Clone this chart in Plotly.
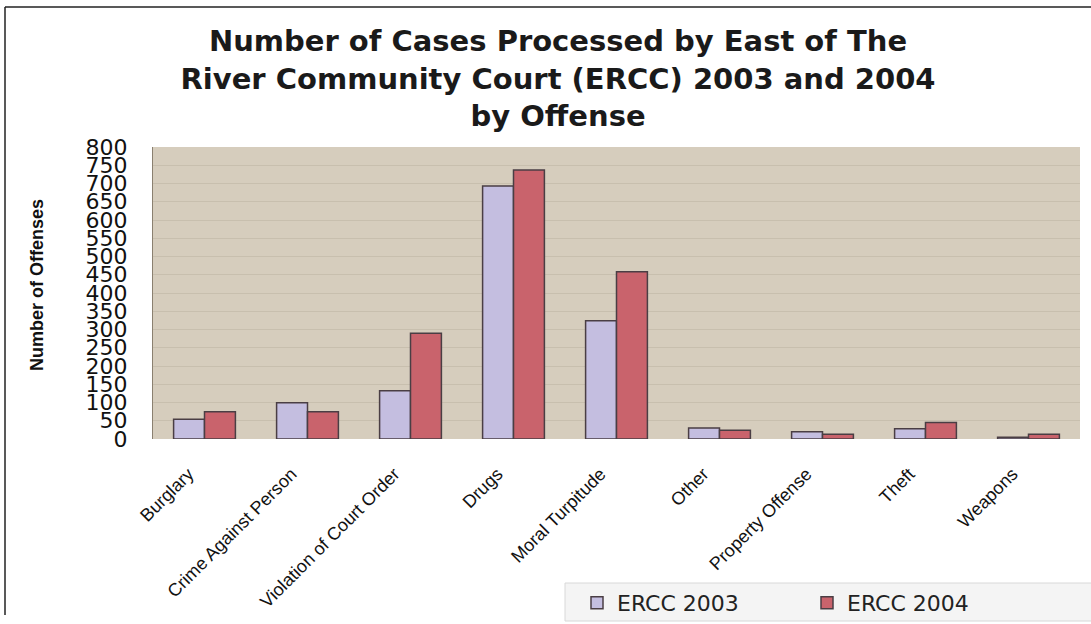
import plotly.graph_objects as go

categories = ["Burglary", "Crime Against Person", "Violation of Court Order", "Drugs",
              "Moral Turpitude", "Other", "Property Offense", "Theft", "Weapons"]
ercc_2003 = [54, 99, 132, 693, 324, 30, 20, 28, 5]
ercc_2004 = [75, 75, 290, 737, 458, 24, 13, 45, 13]
y_ticks = list(range(0, 801, 50))

W, H = 1091, 624
L, R, T, B = 153, 11, 147, 185

fig = go.Figure()
fig.add_trace(go.Bar(name="ERCC 2003", x=categories, y=ercc_2003,
                     marker=dict(color="#c4bee0", line=dict(color="#4a3e44", width=1.5))))
fig.add_trace(go.Bar(name="ERCC 2004", x=categories, y=ercc_2004,
                     marker=dict(color="#c9636c", line=dict(color="#4a3e44", width=1.5))))

pw = W - L - R
ph = H - T - B

fig.update_layout(
    width=W, height=H,
    margin=dict(l=L, r=R, t=T, b=B, pad=0, autoexpand=False),
    paper_bgcolor="white",
    plot_bgcolor="#d6cdbd",
    barmode="group", bargap=0.4, bargroupgap=0.0,
    title=dict(
        text="<b>Number of Cases Processed by East of The<br>River Community Court (ERCC) 2003 and 2004<br>by Offense</b>",
        x=(558 - L) / pw, xanchor="center", xref="paper",
        y=1 - 51 / H, yanchor="middle", yref="container",
        font=dict(family="DejaVu Sans", size=29, color="#1a1a1a"),
    ),
    font=dict(family="Liberation Sans", color="#111111"),
    xaxis=dict(
        type="category", tickangle=-45, automargin=False,
        tickfont=dict(family="Liberation Sans", size=18, color="#111111"),
        showgrid=False, showline=False, ticks="",
        ticklabelstandoff=20, ticklabelshift=-16,
    ),
    yaxis=dict(
        range=[0, 800], tickvals=y_ticks, ticktext=[str(v) for v in y_ticks],
        automargin=False,
        tickfont=dict(family="DejaVu Sans", size=22, color="#111111"),
        showgrid=True, gridcolor="#c8bfae", gridwidth=1,
        showline=True, linecolor="#8a8070", linewidth=1,
        zeroline=False, ticks="", ticklabelstandoff=20,
    ),
    legend=dict(
        orientation="h", x=(577 - L) / pw, y=(H - B - 582) / ph,
        xanchor="left", yanchor="top",
        bgcolor="rgba(0,0,0,0)", borderwidth=0,
        font=dict(family="DejaVu Sans", size=22, color="#222222"),
        entrywidth=185, entrywidthmode="pixels",
    ),
    showlegend=True,
)

# legend panel background spanning to the right edge
fig.add_shape(type="rect", xref="paper", yref="paper", layer="below",
              x0=(565 - L) / pw, x1=(W + 5 - L) / pw,
              y0=(H - B - 583) / ph, y1=(H - B - 621) / ph,
              fillcolor="#f4f4f4", line=dict(color="#d8d8d8", width=1))

fig.add_annotation(
    text="<b>Number of Offenses</b>", textangle=-90,
    xref="paper", yref="paper",
    x=(37 - L) / pw, y=(H - B - 285) / ph,
    xanchor="center", yanchor="middle", showarrow=False,
    font=dict(family="Liberation Sans Narrow, Liberation Sans", size=18, color="#111111"),
)

# scanned page border (top and left edges)
fig.add_shape(type="line", xref="paper", yref="paper",
              x0=(5 - L) / pw, x1=(W + 5 - L) / pw,
              y0=(H - B - 7) / ph, y1=(H - B - 7) / ph,
              line=dict(color="#222222", width=1.5))
fig.add_shape(type="line", xref="paper", yref="paper",
              x0=(5 - L) / pw, x1=(5 - L) / pw,
              y0=(H - B - 7) / ph, y1=(H - B - 615) / ph,
              line=dict(color="#222222", width=1.5))

fig.write_html("out.html", config={"displayModeBar": False},
               post_script="document.body.style.margin='0';")
